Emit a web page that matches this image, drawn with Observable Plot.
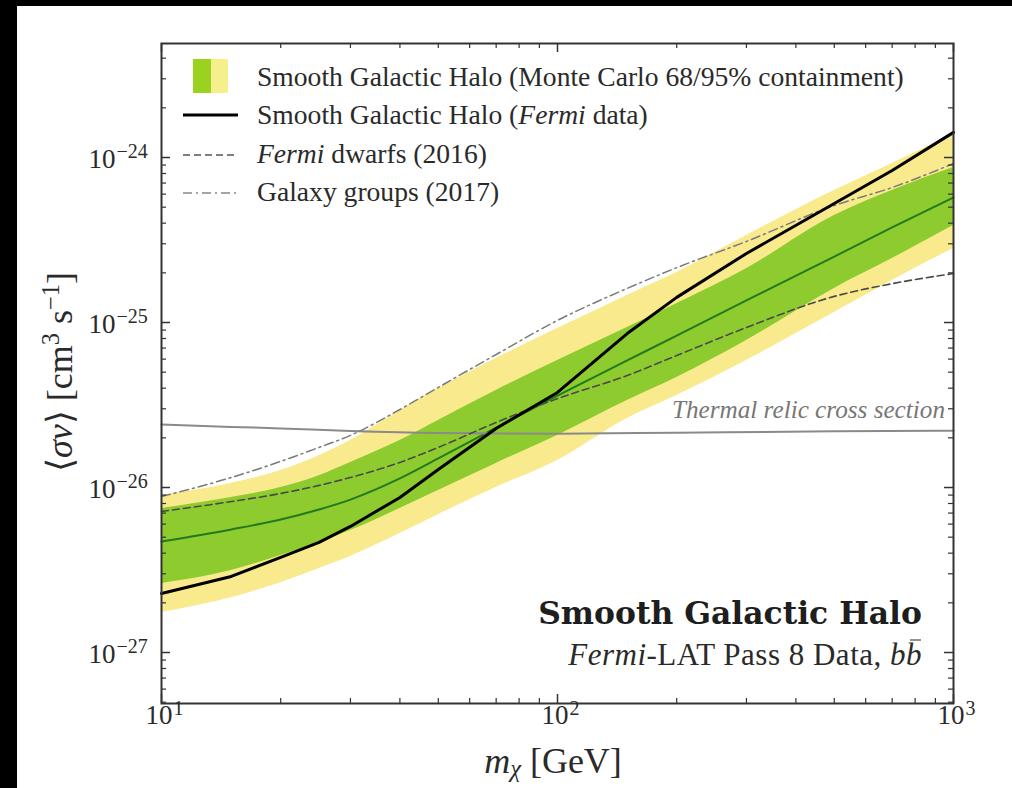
<!DOCTYPE html>
<html><head><meta charset="utf-8">
<script src="https://cdn.jsdelivr.net/npm/d3@7"></script>
<script src="https://cdn.jsdelivr.net/npm/@observablehq/plot@0.6"></script>
<style>
html,body{margin:0;padding:0;background:#000;}
#wrap{position:relative;width:1012px;height:788px;overflow:hidden;background:#000;}
#page{position:absolute;left:17px;top:6px;width:995px;height:782px;background:#fff;}
.t{position:absolute;font-family:"Liberation Serif","Times New Roman",serif;color:#2a2a2a;white-space:nowrap;line-height:1;transform:translateY(-50%);}
.t sup{font-size:0.68em;vertical-align:0;position:relative;top:-0.55em;}
.t sub{font-size:0.68em;vertical-align:0;position:relative;top:0.18em;}
.bar{position:relative;}
.bar::after{content:"";position:absolute;left:0.12em;right:0.02em;top:0.1em;border-top:1.5px solid #2a2a2a;}
</style></head><body>
<div id="wrap"><div id="page"></div></div>
<script>
// ---- data ----
const masses = [10,15,20,25,30,40,50,70,100,150,200,300,500,700,1000];
const fermiHalo = [2.28e-27,2.89e-27,3.77e-27,4.65e-27,5.81e-27,8.7e-27,1.285e-26,2.28e-26,3.77e-26,8.57e-26,1.42e-25,2.62e-25,5.26e-25,8.34e-25,1.42e-24];
const mcMedian = [4.71e-27,5.57e-27,6.4e-27,7.36e-27,8.45e-27,1.135e-26,1.5e-26,2.31e-26,3.61e-26,5.89e-26,8.34e-26,1.36e-25,2.51e-25,3.77e-25,5.73e-25];
const mc68Low = [2.62e-27,3.14e-27,3.87e-27,4.64e-27,5.48e-27,7.46e-27,9.59e-27,1.40e-26,2.07e-26,3.37e-26,4.64e-26,7.78e-26,1.61e-25,2.44e-25,3.87e-25];
const mc68High = [7.46e-27,8.69e-27,1.0e-26,1.18e-26,1.42e-26,1.93e-26,2.55e-26,3.87e-26,5.89e-26,9.33e-26,1.30e-25,2.12e-25,4.45e-25,6.31e-25,8.69e-25];
const mc95Low = [1.75e-27,2.15e-27,2.65e-27,3.23e-27,3.82e-27,5.26e-27,6.85e-27,1.0e-26,1.46e-26,2.62e-26,3.61e-26,5.89e-26,1.15e-25,1.80e-25,2.81e-25];
const mc95High = [8.94e-27,1.06e-26,1.27e-26,1.56e-26,1.93e-26,2.93e-26,3.98e-26,6.05e-26,9.2e-26,1.46e-25,2.01e-25,3.37e-25,6.31e-25,9.2e-25,1.40e-24];
const dwarfs2016 = [7.16e-27,8.22e-27,9.2e-27,1.03e-26,1.15e-26,1.42e-26,1.75e-26,2.48e-26,3.46e-26,4.77e-26,6.31e-26,9.33e-26,1.44e-25,1.72e-25,1.98e-25];
const groups2017 = [8.81e-27,1.15e-26,1.44e-26,1.75e-26,2.07e-26,2.97e-26,4.04e-26,6.40e-26,1.03e-25,1.61e-25,2.15e-25,3.10e-25,5.12e-25,6.58e-25,9.2e-25];
const thermalMasses = [10,15,20,30,50,100,200,500,1000];
const thermalRelic = [2.41e-26,2.33e-26,2.28e-26,2.2e-26,2.14e-26,2.12e-26,2.15e-26,2.19e-26,2.21e-26];

const xTickVals = [10,100,1000];
const xTickExps = ["1","2","3"];
const yTickVals = [1e-27,1e-26,1e-25,1e-24];
const yTickExps = ["\u221227","\u221226","\u221225","\u221224"];
const xMinorTicks = [20,30,40,50,60,70,80,90,200,300,400,500,600,700,800,900];
const yDomain = [Math.pow(10, -27.309), Math.pow(10, -23.309)];
const yMinorTicks = [];
[-28,-27,-26,-25,-24].forEach(e => { for (let k = 2; k <= 9; k++) { const v = k * Math.pow(10, e); if (v >= yDomain[0] && v <= yDomain[1]) yMinorTicks.push(v); } });

const rows = masses.map((m, i) => ({
  m, fermi: fermiHalo[i], med: mcMedian[i], lo68: mc68Low[i], hi68: mc68High[i],
  lo95: mc95Low[i], hi95: mc95High[i], dw: dwarfs2016[i], gg: groups2017[i]
}));
const thermal = thermalMasses.map((m, i) => ({m, v: thermalRelic[i]}));

const W = 995, H = 782, mL = 144, mR = 59, mT = 37, mB = 85;
const fW = W - mL - mR, fH = H - mT - mB;
const tickCol = "#333";
const serif = "Liberation Serif, serif";

const chart = Plot.plot({
  width: W, height: H,
  marginLeft: mL, marginRight: mR, marginTop: mT, marginBottom: mB,
  x: {type: "log", domain: [10, 1000], axis: null},
  y: {type: "log", domain: yDomain, axis: null},
  style: {background: "transparent", fontFamily: serif, color: "#2a2a2a"},
  marks: [
    Plot.areaY(rows, {x: "m", y1: "lo95", y2: "hi95", fill: "#f9ea8d", curve: "monotone-x"}),
    Plot.areaY(rows, {x: "m", y1: "lo68", y2: "hi68", fill: "#8dcb2e", curve: "monotone-x"}),
    Plot.line(rows, {x: "m", y: "med", stroke: "#237a1c", strokeWidth: 2, curve: "monotone-x"}),
    Plot.line(thermal, {x: "m", y: "v", stroke: "#8a8a8a", strokeWidth: 2, curve: "monotone-x"}),
    Plot.line(rows, {x: "m", y: "gg", stroke: "#7a7a7a", strokeWidth: 1.5, strokeDasharray: "9,4,2,4", curve: "monotone-x"}),
    Plot.line(rows, {x: "m", y: "dw", stroke: "#4a4a4a", strokeWidth: 1.6, strokeDasharray: "7,4", curve: "monotone-x"}),
    Plot.line(rows, {x: "m", y: "fermi", stroke: "#000", strokeWidth: 3}),
    // ticks, pointing inward on all four sides
    Plot.ruleX(xTickVals, {x: d => d, insetTop: fH - 9, stroke: tickCol, strokeWidth: 1.5}),
    Plot.ruleX(xTickVals, {x: d => d, insetBottom: fH - 9, stroke: tickCol, strokeWidth: 1.5}),
    Plot.ruleX(xMinorTicks, {x: d => d, insetTop: fH - 5, stroke: tickCol, strokeWidth: 1.2}),
    Plot.ruleX(xMinorTicks, {x: d => d, insetBottom: fH - 5, stroke: tickCol, strokeWidth: 1.2}),
    Plot.ruleY(yTickVals, {y: d => d, insetRight: fW - 9, stroke: tickCol, strokeWidth: 1.5}),
    Plot.ruleY(yTickVals, {y: d => d, insetLeft: fW - 9, stroke: tickCol, strokeWidth: 1.5}),
    Plot.ruleY(yMinorTicks, {y: d => d, insetRight: fW - 5, stroke: tickCol, strokeWidth: 1.2}),
    Plot.ruleY(yMinorTicks, {y: d => d, insetLeft: fW - 5, stroke: tickCol, strokeWidth: 1.2}),
    Plot.frame({stroke: "#333", strokeWidth: 2}),
    // tick labels
    Plot.text(xTickVals, {x: d => d, frameAnchor: "bottom", text: () => "10", textAnchor: "end", dx: 11, dy: 20, fontSize: 27, fill: "#2a2a2a"}),
    Plot.text(xTickVals, {x: d => d, frameAnchor: "bottom", text: (d, i) => xTickExps[i], textAnchor: "start", dx: 12, dy: 11, fontSize: 20, fill: "#2a2a2a"}),
    Plot.text(yTickVals, {y: d => d, frameAnchor: "left", text: () => "10", textAnchor: "end", dx: -46, dy: 2, fontSize: 27, fill: "#2a2a2a"}),
    Plot.text(yTickVals, {y: d => d, frameAnchor: "left", text: (d, i) => yTickExps[i], textAnchor: "start", dx: -45, dy: -6, fontSize: 20, fill: "#2a2a2a"})
  ]
});
document.getElementById("page").appendChild(chart);

// ---- overlays: legend, annotations, axis titles ----
const wrap = document.getElementById("wrap");
function addHTML(html) { const d = document.createElement("div"); d.innerHTML = html; while (d.firstChild) wrap.appendChild(d.firstChild); }

addHTML(`
<svg style="position:absolute;left:0;top:0" width="1012" height="788">
  <rect x="193" y="59" width="18" height="34" fill="#9bd11f"/>
  <rect x="211" y="59" width="17" height="34" fill="#f6f08c"/>
  <line x1="183" x2="238" y1="115" y2="115" stroke="#000" stroke-width="3"/>
  <line x1="183" x2="238" y1="155" y2="155" stroke="#555" stroke-width="1.5" stroke-dasharray="7,4"/>
  <line x1="183" x2="238" y1="193" y2="193" stroke="#888" stroke-width="1.5" stroke-dasharray="9,4,2,4"/>
</svg>
<div class="t" style="left:257px;top:77px;font-size:27.6px">Smooth Galactic Halo (Monte Carlo 68/95% containment)</div>
<div class="t" style="left:257px;top:115px;font-size:27.6px">Smooth Galactic Halo (<i>Fermi</i> data)</div>
<div class="t" style="left:257px;top:154px;font-size:27.6px"><i>Fermi</i> dwarfs (2016)</div>
<div class="t" style="left:257px;top:192px;font-size:27.6px">Galaxy groups (2017)</div>
<div class="t" style="right:67px;top:410px;font-size:25.2px;color:#777"><i>Thermal relic cross section</i></div>
<div class="t" style="right:90px;top:614px;font-size:31.4px;font-family:'DejaVu Serif',serif;font-weight:bold;color:#1e1e1e">Smooth Galactic Halo</div>
<div class="t" style="right:90px;top:654px;font-size:31px;letter-spacing:0.5px"><i>Fermi</i>-LAT Pass 8 Data, <i>b<span class="bar">b</span></i></div>
<div class="t" style="left:553px;top:761px;font-size:36px;transform:translate(-50%,-50%)"><i>m</i><sub><i>χ</i></sub> [GeV]</div>
<div class="t" style="left:60px;top:372px;font-size:36px;transform:translate(-50%,-50%) rotate(-90deg)">⟨<i>σv</i>⟩ [cm<sup>3</sup> s<sup>−1</sup>]</div>
`);
</script>
</body></html>
